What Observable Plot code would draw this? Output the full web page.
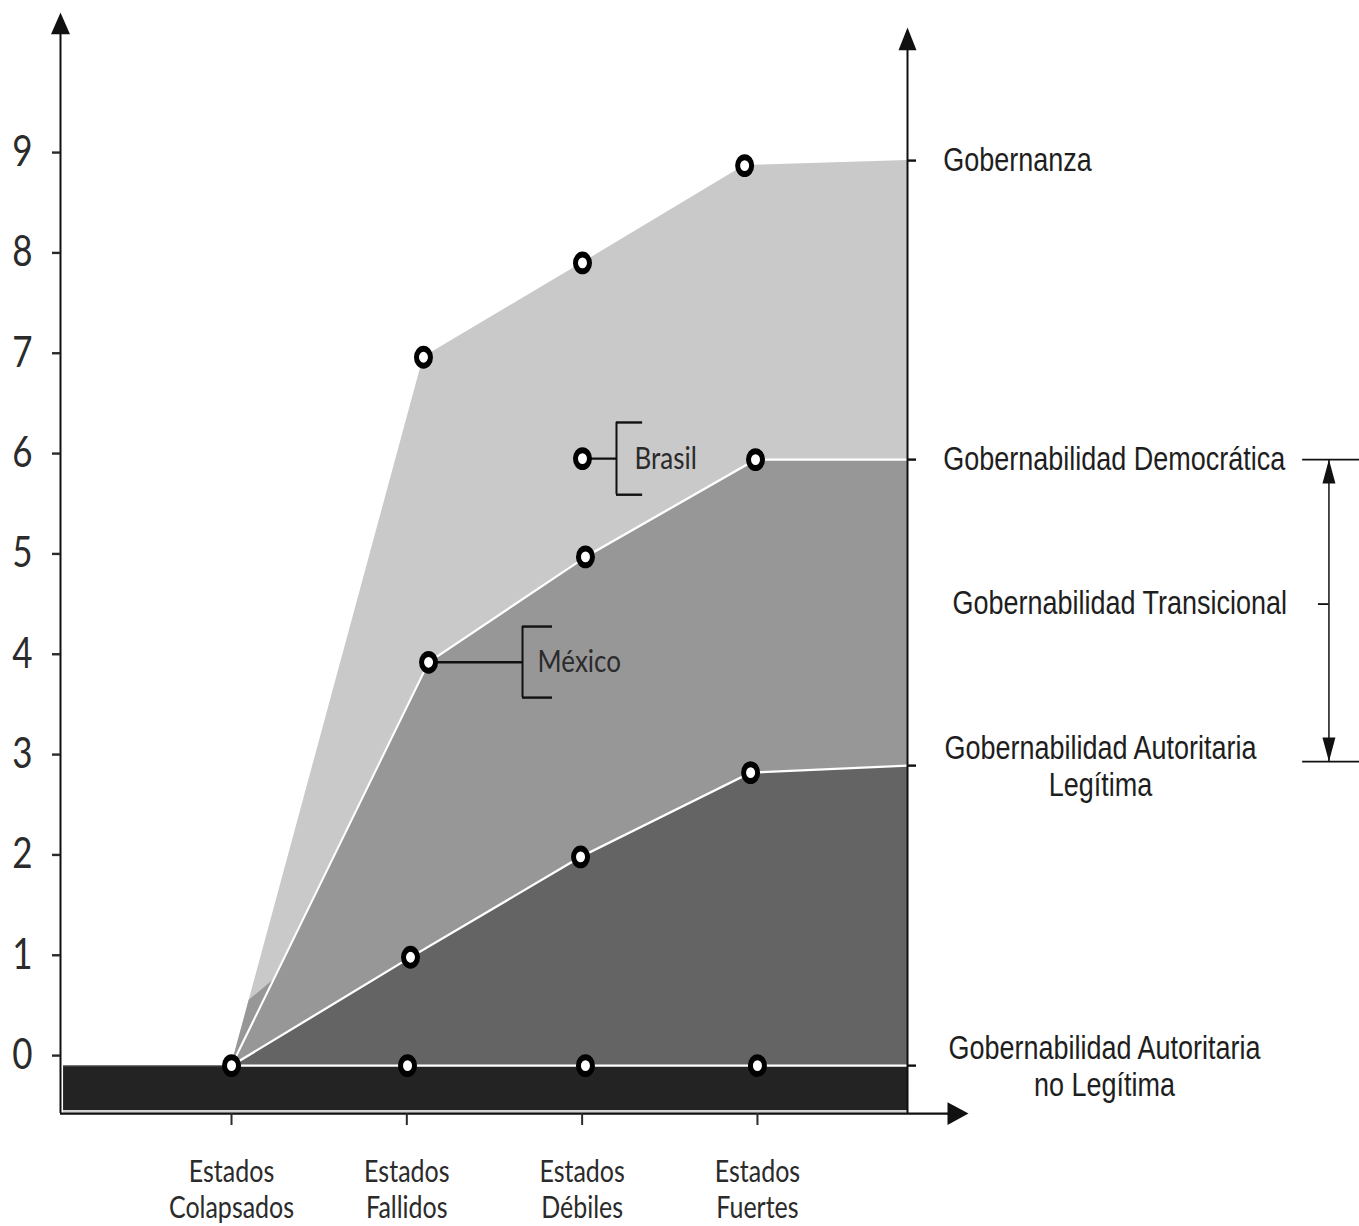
<!DOCTYPE html>
<html>
<head>
<meta charset="utf-8">
<script src="https://cdn.jsdelivr.net/npm/d3@7"></script>
<script src="https://cdn.jsdelivr.net/npm/@observablehq/plot@0.6"></script>
<style>
  body { margin: 0; background: #fff; }
  #chart svg { display: block; }
</style>
</head>
<body>
<div id="chart"></div>
<script>
// ---------------- DATA ----------------
const categories = ["Estados\nColapsados", "Estados\nFallidos", "Estados\nDébiles", "Estados\nFuertes"];
const categoryPos = [1, 2, 3, 4];
const yTicks = [0, 1, 2, 3, 4, 5, 6, 7, 8, 9];

// Level boundaries (x = position along state axis, y = governability score)
const baseLevel = -0.1;                      // "Gobernabilidad Autoritaria no Legítima"
const baseBottom = -0.55;
const basePointsX = [1, 2.004, 3.019, 4.0];

const autLegX = [1, 2.021, 2.991, 3.961, 4.856];   // "Gobernabilidad Autoritaria Legítima"
const autLegY = [-0.1, 0.98, 1.98, 2.82, 2.89];

const demX = [1, 2.124, 3.019, 3.989, 4.856];      // "Gobernabilidad Democrática"
const demY = [-0.1, 3.92, 4.97, 5.94, 5.94];

const gobX = [1, 2.095, 3.002, 3.927, 4.856];      // "Gobernanza"
const gobY = [-0.1, 6.96, 7.90, 8.87, 8.92];

const wedgeX = [1.101, 1.238];                      // small transitional wedge near the origin
const wedgeY = [0.55, 0.75];

const brasil = {x: 3.002, y: 5.95};
const mexicoIndex = 1;

const rightLevels = [8.92, 5.94, 2.89, -0.1];
const rightLabels = ["Gobernanza", "Gobernabilidad Democrática", "Gobernabilidad Transicional",
                     "Gobernabilidad Autoritaria\nLegítima", "Gobernabilidad Autoritaria\nno Legítima"];
const rightLabelY = [8.92, 5.94, 4.5, 2.89, -0.1];

// ---------------- LAYOUT ----------------
const W = 1359, H_OUT = 1226, H = 1022;   // drawn compressed, shown stretched vertically
const xMin = 0.0245, xMax = 4.856;
const yMin = -0.578, yMax = 10.395;

const zip = (xs, ys) => xs.map((x, i) => ({x, y: ys[i]}));
const gob = zip(gobX, gobY);
const dem = zip(demX, demY);
const aut = zip(autLegX, autLegY);
const med = [dem[0], ...zip(wedgeX, wedgeY), ...dem.slice(1)];

const points = [
  ...basePointsX.map(x => ({x, y: baseLevel})),
  ...aut.slice(1, 4), ...dem.slice(1, 4), ...gob.slice(1, 4),
  brasil
];
const mexico = dem[mexicoIndex];

const annotations = [
  {name: "Brasil", px: brasil.x, py: brasil.y, bx: 3.196, sx: 3.345, top: 6.31, bottom: 5.59, tx: 3.299},
  {name: "México", px: mexico.x, py: mexico.y, bx: 2.66, sx: 2.831, top: 4.276, bottom: 3.568, tx: 2.746}
];

const labelXs = [5.06, 5.06, 5.113, 5.957, 5.98];
const rightLabelDefs = rightLabels.map((text, i) => ({text, x: labelXs[i], y: rightLabelY[i]}));
const startLabels = rightLabelDefs.slice(0, 3);
const middleLabels = rightLabelDefs.slice(3);

// arrowhead symbols (tip at origin)
const arrowUp = (w, h) => ({draw(c) { c.moveTo(0, 0); c.lineTo(-w / 2, h); c.lineTo(w / 2, h); c.closePath(); }});
const arrowDown = (w, h) => ({draw(c) { c.moveTo(0, 0); c.lineTo(-w / 2, -h); c.lineTo(w / 2, -h); c.closePath(); }});
const arrowRight = (l, w) => ({draw(c) { c.moveTo(0, 0); c.lineTo(-l, -w / 2); c.lineTo(-l, w / 2); c.closePath(); }});

const bracketX = 7.26;
const bracketTop = 5.94, bracketBottom = 2.93;

const labelFont = "Lato, 'Open Sans', sans-serif";
const arialFont = "'Liberation Sans', Arial, sans-serif";

const chart = Plot.plot({
  width: W,
  height: H,
  marginLeft: 60,
  marginRight: W - 907,
  marginTop: 10,
  marginBottom: H - 927.8,
  x: {type: "linear", domain: [xMin, xMax]},
  y: {type: "linear", domain: [yMin, yMax]},
  style: {background: "white", overflow: "visible"},
  marks: [
    // dark base band
    Plot.rect([{x1: 0.042, x2: xMax, y1: baseBottom, y2: baseLevel}],
      {x1: "x1", x2: "x2", y1: "y1", y2: "y2", fill: "#232323"}),
    // stacked regions
    Plot.area(gob, {x1: "x", y1: () => baseLevel, y2: "y", fill: "#c9c9c9", curve: "linear"}),
    Plot.area(med, {x1: "x", y1: () => baseLevel, y2: "y", fill: "#979797", curve: "linear"}),
    Plot.area(aut, {x1: "x", y1: () => baseLevel, y2: "y", fill: "#646464", curve: "linear"}),
    // white separation lines
    Plot.line(dem, {x: "x", y: "y", stroke: "white", strokeWidth: 2}),
    Plot.line(aut, {x: "x", y: "y", stroke: "white", strokeWidth: 2}),
    Plot.ruleY([baseLevel], {x1: 1, x2: xMax, stroke: "white", strokeWidth: 2}),
    Plot.ruleY([baseLevel], {x1: 0.042, x2: 1, stroke: "#777", strokeWidth: 1}),
    Plot.ruleY([-0.56], {x1: 0.042, x2: xMax, stroke: "#d0d0d0", strokeWidth: 1.5}),

    // axis lines
    Plot.ruleX([xMin], {y1: yMin, y2: 10.2, stroke: "#111", strokeWidth: 2}),
    Plot.ruleX([xMax], {y1: yMin, y2: 10.05, stroke: "#111", strokeWidth: 2}),
    Plot.ruleY([yMin], {x1: xMin, x2: 5.1, stroke: "#111", strokeWidth: 2}),

    // axes
    Plot.axisY({anchor: "left", ticks: yTicks, tickSize: 8, tickPadding: 20, label: null,
      fontSize: 35, fontFamily: labelFont, color: "#2b2b2b", strokeWidth: 2}),
    Plot.axisY({anchor: "right", ticks: rightLevels, tickSize: 8, tickFormat: () => "", label: null,
      color: "#111", strokeWidth: 2}),
    Plot.axisX({anchor: "bottom", ticks: categoryPos, tickSize: 10, tickPadding: 26, label: null,
      tickFormat: d => categories[d - 1], fontSize: 25, lineHeight: 1.2,
      fontFamily: labelFont, color: "#2b2b2b", strokeWidth: 2}),

    // annotation brackets (Brasil, México)
    Plot.ruleY(annotations, {y: "py", x1: "px", x2: "bx", stroke: "#111", strokeWidth: 2}),
    Plot.ruleX(annotations, {x: "bx", y1: "bottom", y2: "top", stroke: "#111", strokeWidth: 2}),
    Plot.ruleY(annotations, {y: "top", x1: "bx", x2: "sx", stroke: "#111", strokeWidth: 2}),
    Plot.ruleY(annotations, {y: "bottom", x1: "bx", x2: "sx", stroke: "#111", strokeWidth: 2}),
    Plot.text(annotations, {x: "tx", y: "py", text: "name", textAnchor: "start",
      fontSize: 26, fontFamily: labelFont, fill: "#2b2b2b"}),

    // points
    Plot.dot(points, {x: "x", y: "y", r: 7, fill: "white", stroke: "black", strokeWidth: 5}),

    // double-arrow range on the right
    Plot.ruleY([bracketTop, bracketBottom], {x1: 7.11, x2: 7.45, stroke: "#111", strokeWidth: 1.5}),
    Plot.ruleX([bracketX], {y1: bracketBottom, y2: bracketTop, stroke: "#111", strokeWidth: 1.5}),
    Plot.ruleY([4.5], {x1: 7.2, x2: bracketX, stroke: "#111", strokeWidth: 1.5}),
    Plot.dot([{x: bracketX, y: bracketTop}], {x: "x", y: "y", symbol: arrowUp(13, 20), fill: "#111", stroke: null}),
    Plot.dot([{x: bracketX, y: bracketBottom}], {x: "x", y: "y", symbol: arrowDown(13, 20), fill: "#111", stroke: null}),

    // axis arrowheads
    Plot.dot([{x: xMin, y: yMax}], {x: "x", y: "y", symbol: arrowUp(19, 18), fill: "#111", stroke: null}),
    Plot.dot([{x: xMax, y: 10.246}], {x: "x", y: "y", symbol: arrowUp(18, 19), fill: "#111", stroke: null}),
    Plot.dot([{x: 5.204, y: yMin}], {x: "x", y: "y", symbol: arrowRight(21, 19), fill: "#111", stroke: null}),

    // right-hand level labels
    Plot.text(startLabels, {x: "x", y: "y", text: "text", textAnchor: "start",
      fontSize: 27, fontFamily: arialFont, fill: "#1e1e1e"}),
    Plot.text(middleLabels, {x: "x", y: "y", text: "text", textAnchor: "middle",
      lineHeight: 1.15, fontSize: 27, fontFamily: arialFont, fill: "#1e1e1e"})
  ]
});

// The reference is vertically stretched: show the compressed drawing stretched to full height.
const svg = chart.tagName.toLowerCase() === "svg" ? chart : chart.querySelector("svg");
svg.setAttribute("viewBox", `0 0 ${W} ${H}`);
svg.setAttribute("width", W);
svg.setAttribute("height", H_OUT);
svg.setAttribute("preserveAspectRatio", "none");
svg.style.width = W + "px";
svg.style.height = H_OUT + "px";
svg.style.maxWidth = "none";
document.getElementById("chart").appendChild(chart);
</script>
</body>
</html>
